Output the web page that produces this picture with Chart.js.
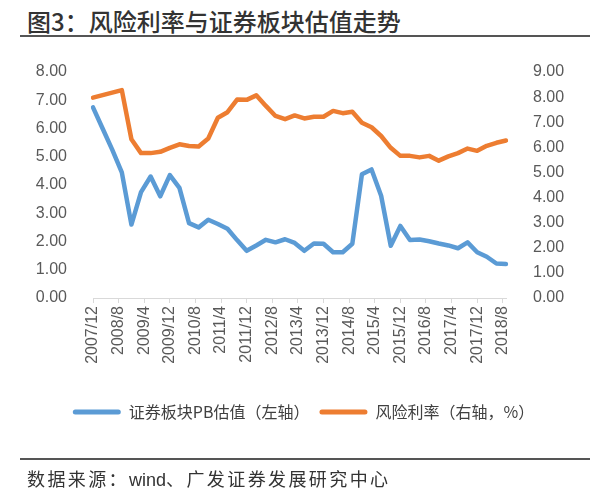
<!DOCTYPE html>
<html>
<head>
<meta charset="utf-8">
<script src="https://cdn.jsdelivr.net/npm/chart.js@4.4.1/dist/chart.umd.min.js"></script>
<style>
body { margin: 0; background: #fff; }
#wrap { position: relative; width: 607px; height: 500px; overflow: hidden; }
#title { position: absolute; left: 27px; top: 3px; font: 500 24px "Noto Sans CJK SC"; color: #333; white-space: nowrap; }
#topline { position: absolute; left: 20px; top: 35px; width: 570px; height: 2px; background: #555; }
#botline { position: absolute; left: 20px; top: 458px; width: 570px; height: 2px; background: #555; }
#source { position: absolute; left: 27px; top: 469px; font: 18px "Noto Sans CJK SC"; line-height: 18px; letter-spacing: 2.4px; color: #333; white-space: nowrap; }
#source span { font-family: "Liberation Sans", Arial; letter-spacing: 0; }
#chart { position: absolute; left: 0; top: 0; }
</style>
</head>
<body>
<div id="wrap">
  <div id="title">图3：风险利率与证券板块估值走势</div>
  <div id="topline"></div>
  <canvas id="chart" width="607" height="500"></canvas>
  <div id="botline"></div>
  <div id="source">数据来源：<span>wind</span>、广发证券发展研究中心</div>
</div>
<script>
// 季度数据点
var dates = ['2007/12','2008/3','2008/6','2008/9','2008/12','2009/3','2009/6','2009/9','2009/12','2010/3',
    '2010/6','2010/9','2010/12','2011/3','2011/6','2011/9','2011/12','2012/3','2012/6','2012/9',
    '2012/12','2013/3','2013/6','2013/9','2013/12','2014/3','2014/6','2014/9','2014/12','2015/3',
    '2015/6','2015/9','2015/12','2016/3','2016/6','2016/9','2016/12','2017/3','2017/6','2017/9',
    '2017/12','2018/3','2018/6','2018/9'];
var pbValues = [6.75,6.0,5.25,4.45,2.6,3.75,4.3,3.6,4.35,3.9,
    2.65,2.5,2.77,2.62,2.45,2.05,1.67,1.86,2.06,1.97,
    2.08,1.95,1.67,1.93,1.92,1.62,1.62,1.92,4.38,4.55,
    3.62,1.85,2.55,2.05,2.07,2.01,1.93,1.86,1.76,1.97,
    1.62,1.46,1.22,1.2];
var riskValues = [7.98,8.08,8.18,8.28,6.32,5.77,5.77,5.82,5.98,6.12,
    6.05,6.03,6.35,7.18,7.4,7.9,7.89,8.07,7.65,7.25,
    7.12,7.27,7.15,7.22,7.22,7.45,7.36,7.42,6.98,6.8,
    6.45,5.98,5.66,5.66,5.6,5.66,5.47,5.64,5.77,5.95,
    5.86,6.06,6.18,6.27];
var leftTicks = [0,1,2,3,4,5,6,7,8];
var rightTicks = [0,1,2,3,4,5,6,7,8,9];

// 月度坐标轴，每8个月显示一个标签
var months = [];
var yr = 2007, mo = 12;
for (var i = 0; i < 130; i++) {
    months.push(yr + '/' + mo);
    mo++;
    if (mo > 12) { mo = 1; yr++; }
}

function toPoints(values) {
    return values.map(function (v, i) { return { x: dates[i], y: v }; });
}

var tickFont = { family: '"Liberation Sans", Arial', size: 16 };
var tickColor = '#595959';

var ctx = document.getElementById('chart').getContext('2d');
var chart = new Chart(ctx, {
    type: 'line',
    data: {
        labels: months,
        datasets: [{
            label: '证券板块PB估值（左轴）',
            data: toPoints(pbValues),
            yAxisID: 'y',
            borderColor: '#5B9BD5',
            backgroundColor: '#5B9BD5',
            borderWidth: 4.5,
            pointRadius: 0,
            borderJoinStyle: 'round',
            borderCapStyle: 'round'
        }, {
            label: '风险利率（右轴，%）',
            data: toPoints(riskValues),
            yAxisID: 'y1',
            borderColor: '#ED7D31',
            backgroundColor: '#ED7D31',
            borderWidth: 4.5,
            pointRadius: 0,
            borderJoinStyle: 'round',
            borderCapStyle: 'round'
        }]
    },
    options: {
        responsive: false,
        animation: false,
        layout: { padding: { top: 72, left: 0, right: 0, bottom: 70 } },
        plugins: {
            tooltip: { enabled: false },
            legend: {
                position: 'bottom',
                labels: {
                    boxWidth: 48,
                    boxHeight: 5,
                    padding: 10,
                    useBorderRadius: true,
                    borderRadius: 2.5,
                    color: '#404040',
                    font: { family: '"Noto Sans CJK SC"', size: 16 },
                    generateLabels: function (chart) {
                        return chart.data.datasets.map(function (ds, i) {
                            return {
                                text: ds.label,
                                fillStyle: ds.borderColor,
                                strokeStyle: ds.borderColor,
                                lineWidth: 0,
                                borderRadius: 2.5,
                                fontColor: '#404040',
                                hidden: false,
                                datasetIndex: i
                            };
                        });
                    }
                }
            }
        },
        scales: {
            x: {
                type: 'category',
                offset: false,
                afterFit: function (scale) { scale.height = 96; },
                grid: { drawOnChartArea: false, drawTicks: true, tickLength: 5, color: '#d9d9d9' },
                border: { color: '#d9d9d9' },
                ticks: {
                    autoSkip: false,
                    maxRotation: 90,
                    minRotation: 90,
                    padding: 3,
                    color: tickColor,
                    font: tickFont,
                    callback: function (v, i) { return i % 8 === 0 ? months[i] : null; }
                }
            },
            y: {
                position: 'left',
                min: leftTicks[0],
                max: leftTicks[leftTicks.length - 1],
                afterFit: function (scale) { scale.width = 93; },
                grid: { display: false },
                border: { display: false },
                ticks: {
                    stepSize: 1,
                    padding: 18,
                    color: tickColor,
                    font: tickFont,
                    callback: function (v) { return v.toFixed(2); }
                }
            },
            y1: {
                position: 'right',
                min: rightTicks[0],
                max: rightTicks[rightTicks.length - 1],
                afterFit: function (scale) { scale.width = 101; },
                grid: { display: false },
                border: { display: false },
                ticks: {
                    stepSize: 1,
                    padding: 19,
                    color: tickColor,
                    font: tickFont,
                    callback: function (v) { return v.toFixed(2); }
                }
            }
        }
    }
});
</script>
</body>
</html>
